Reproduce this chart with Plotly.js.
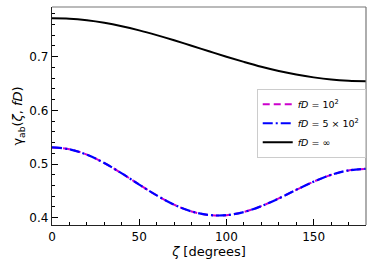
<!DOCTYPE html>
<html><head><meta charset="utf-8">
<script src="https://cdn.plot.ly/plotly-3.0.1.min.js"></script>
<style>body{margin:0;padding:0;background:#fff}#plot{width:374px;height:270px}</style>
</head><body><div id="plot"></div>
<script>
const zeta = [0,10,20,30,40,50,60,70,80,90,100,110,120,130,140,150,160,170,180];
const gamma_fd100 = [0.531,0.5275,0.5174,0.5018,0.4825,0.4617,0.4415,0.4242,0.4117,0.405,0.4047,0.4106,0.4215,0.4359,0.4519,0.4672,0.4798,0.4881,0.491];
const gamma_fd500 = [0.531,0.5275,0.5174,0.5018,0.4825,0.4617,0.4415,0.4242,0.4117,0.405,0.4047,0.4106,0.4215,0.4359,0.4519,0.4672,0.4798,0.4881,0.491];
const gamma_inf = [0.7715,0.7708,0.7679,0.7632,0.7568,0.7490,0.7401,0.7305,0.7203,0.7100,0.6999,0.6903,0.6813,0.6734,0.6668,0.6614,0.6573,0.6550,0.6542];
const names = ['<i>fD</i> = 10<sup>2</sup>','<i>fD</i> = 5 × 10<sup>2</sup>','<i>fD</i> = ∞'];

const font = {family:'DejaVu Sans, sans-serif', size:12, color:'#000'};
const traces = [
  {x:zeta, y:gamma_fd100, name:names[0], mode:'lines', line:{color:'#cc00cc', width:2, dash:'7px,4px', shape:'spline'}},
  {x:zeta, y:gamma_fd500, name:names[1], mode:'lines', line:{color:'#0000ff', width:2.2, dash:'10px,3px,2px,3px', shape:'spline'}},
  {x:zeta, y:gamma_inf, name:names[2], mode:'lines', line:{color:'#000', width:2, shape:'spline'}}
];
const layout = {
  width:374, height:270,
  margin:{l:52, r:8, t:7, b:45},
  paper_bgcolor:'#fff', plot_bgcolor:'#fff',
  font:font,
  showlegend:true,
  legend:{x:0.652, y:0.625, xanchor:'left', yanchor:'top', bgcolor:'rgba(255,255,255,0.9)', bordercolor:'#ccc', borderwidth:1, font:{family:'DejaVu Sans, sans-serif', size:9.5}, tracegroupgap:0, itemwidth:30},
  xaxis:{range:[0,180], tickvals:[0,50,100,150], ticks:'inside', ticklen:6, tickwidth:1, tickcolor:'#000',
    minor:{dtick:10, tick0:0, ticks:'inside', ticklen:3, tickcolor:'#000'},
    showgrid:false, zeroline:false, showline:true, linecolor:'#222', linewidth:1.2,
    title:{text:'<i>ζ</i> [degrees]', font:{family:'DejaVu Sans, sans-serif', size:13}, standoff:3}},
  yaxis:{range:[0.3864,0.7925], tickvals:[0.4,0.5,0.6,0.7], ticktext:['0.4','0.5','0.6','0.7'], ticks:'inside', ticklen:6, tickwidth:1, tickcolor:'#000',
    minor:{dtick:0.02, tick0:0.4, ticks:'inside', ticklen:3, tickcolor:'#000'},
    showgrid:false, zeroline:false, showline:true, linecolor:'#222', linewidth:1.2,
    title:{text:'γ<sub>ab</sub>(<i>ζ</i>, <i>fD</i>)', font:{family:'DejaVu Sans, sans-serif', size:13}, standoff:3}},
  shapes:[
    {type:'line', xref:'paper', yref:'paper', x0:0, x1:1, y0:1, y1:1, line:{color:'#777', width:1.2}},
    {type:'line', xref:'paper', yref:'paper', x0:1, x1:1, y0:0, y1:1, line:{color:'#777', width:1.2}}
  ]
};
Plotly.newPlot('plot', traces, layout, {staticPlot:true, displayModeBar:false});
</script></body></html>
